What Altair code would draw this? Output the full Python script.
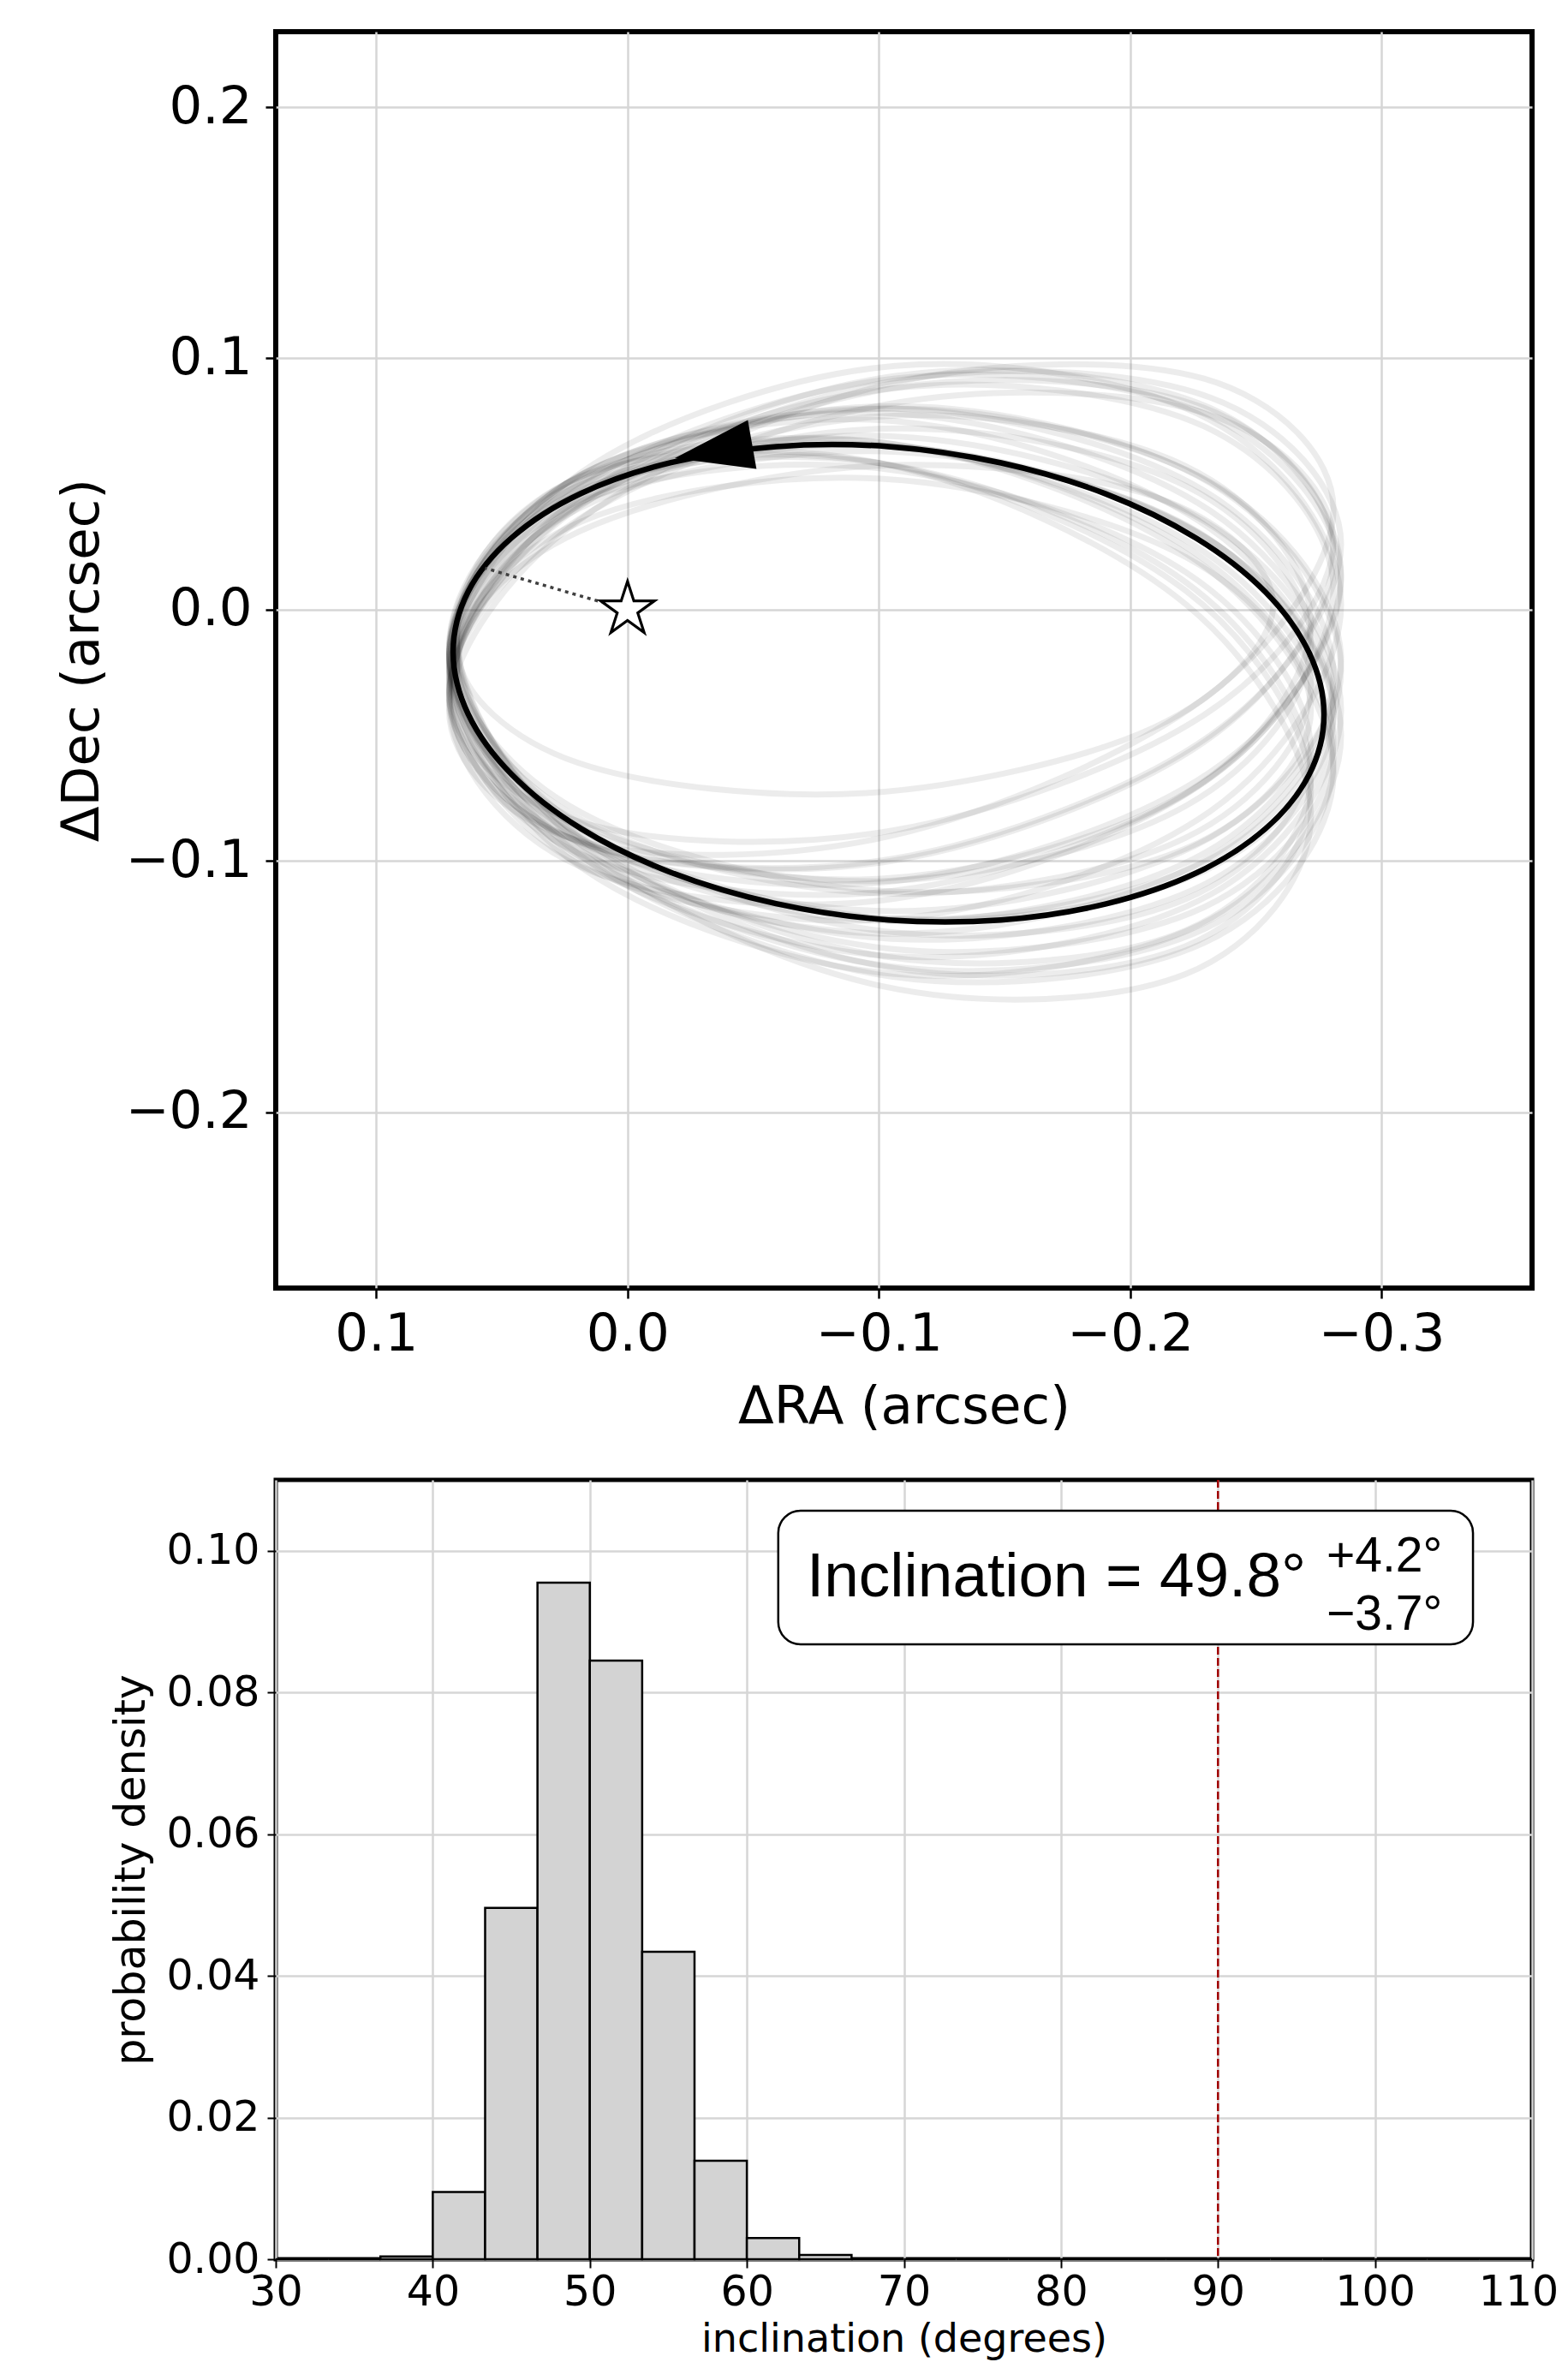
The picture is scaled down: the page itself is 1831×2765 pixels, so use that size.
import altair as alt
import pandas as pd

# ---------------- top panel data (arcsec) ----------------
# best-fit orbit, points
best_ra = [0.0694, 0.0634, 0.0461, 0.0186, -0.0173, -0.0591, -0.1039, -0.1487,
           -0.1905, -0.2264, -0.2539, -0.2712, -0.2772, -0.2712, -0.2539, -0.2264,
           -0.1905, -0.1487, -0.1039, -0.0591, -0.0173, 0.0186, 0.0461, 0.0634]
best_dec = [-0.0168, 0.0072, 0.0286, 0.0462, 0.0585, 0.0649, 0.0649, 0.0584,
            0.0460, 0.0284, 0.0070, -0.0170, -0.0418, -0.0658, -0.0872, -0.1048,
            -0.1171, -0.1235, -0.1235, -0.1170, -0.1046, -0.0871, -0.0656, -0.0416]

# posterior sample orbits: RA of the 8 read points for 4 orbit families
ra_family = {
    "A": [0.071, 0.0195, -0.105, -0.2295, -0.281, -0.2295, -0.105, 0.0195],
    "B": [0.071, 0.0190, -0.1065, -0.2320, -0.284, -0.2320, -0.1065, 0.0190],
    "C": [0.068, 0.0182, -0.102, -0.2222, -0.272, -0.2222, -0.102, 0.0182],
    "D": [0.067, 0.0196, -0.095, -0.2096, -0.257, -0.2096, -0.095, 0.0196],
}
sample_family = ["A", "B", "A", "C", "B", "A", "C", "C", "C", "A",
                 "B", "C", "A", "B", "D", "A", "C", "B", "A", "B",
                 "A", "C", "B", "A", "B", "A", "C", "A"]
sample_dec = [
    [-0.040, 0.0354, 0.090, 0.0919, 0.040, -0.0354, -0.090, -0.0919],
    [-0.034, 0.0420, 0.091, 0.0844, 0.026, -0.0500, -0.099, -0.0924],
    [-0.032, 0.0446, 0.088, 0.0729, 0.008, -0.0686, -0.112, -0.0969],
    [-0.025, 0.0430, 0.077, 0.0571, -0.005, -0.0730, -0.107, -0.0871],
    [-0.024, 0.0503, 0.081, 0.0503, -0.024, -0.0983, -0.129, -0.0983],
    [-0.023, 0.0434, 0.065, 0.0292, -0.043, -0.1094, -0.131, -0.0952],
    [-0.016, 0.0432, 0.056, 0.0149, -0.056, -0.1152, -0.128, -0.0869],
    [-0.012, 0.0499, 0.058, 0.0075, -0.072, -0.1339, -0.142, -0.0915],
    [-0.010, 0.0530, 0.058, 0.0021, -0.082, -0.1450, -0.150, -0.0941],
    [-0.015, 0.0526, 0.066, 0.0173, -0.065, -0.1326, -0.146, -0.0973],
    [-0.028, 0.0542, 0.097, 0.0754, 0.002, -0.0802, -0.123, -0.1014],
    [-0.020, 0.0408, 0.063, 0.0337, -0.030, -0.0908, -0.113, -0.0837],
    [-0.033, 0.0359, 0.082, 0.0783, 0.027, -0.0419, -0.088, -0.0843],
    [-0.020, 0.0534, 0.075, 0.0322, -0.050, -0.1234, -0.145, -0.1022],
    [-0.018, 0.0309, 0.057, 0.0450, 0.002, -0.0469, -0.073, -0.0610],
    [-0.017, 0.0460, 0.065, 0.0290, -0.041, -0.1040, -0.123, -0.0870],
    [-0.020, 0.0351, 0.052, 0.0209, -0.040, -0.0951, -0.112, -0.0809],
    [-0.036, 0.0449, 0.093, 0.0802, 0.014, -0.0669, -0.115, -0.1022],
    [-0.019, 0.0465, 0.069, 0.0352, -0.035, -0.1005, -0.123, -0.0892],
    [-0.020, 0.0507, 0.080, 0.0507, -0.020, -0.0907, -0.120, -0.0907],
    [-0.017, 0.0484, 0.065, 0.0230, -0.053, -0.1184, -0.135, -0.0930],
    [-0.023, 0.0421, 0.072, 0.0492, -0.013, -0.0781, -0.108, -0.0852],
    [-0.028, 0.0486, 0.092, 0.0769, 0.012, -0.0646, -0.108, -0.0929],
    [-0.016, 0.0511, 0.066, 0.0200, -0.060, -0.1271, -0.142, -0.0960],
    [-0.020, 0.0534, 0.078, 0.0393, -0.040, -0.1134, -0.138, -0.0993],
    [-0.034, 0.0407, 0.088, 0.0803, 0.022, -0.0527, -0.100, -0.0923],
    [-0.014, 0.0477, 0.058, 0.0109, -0.066, -0.1277, -0.138, -0.0909],
    [-0.018, 0.0530, 0.080, 0.0473, -0.026, -0.0970, -0.124, -0.0913],
]

star_ra, star_dec = [0.0], [0.0]
sep_ra, sep_dec = [0.0, 0.0567], [0.0, 0.0165]      # star -> companion epoch
arrow_ra, arrow_dec = [-0.0342], [0.0630]           # direction-of-motion arrow

x_ticks_top = [0.1, 0.0, -0.1, -0.2, -0.3]
y_ticks_top = [0.2, 0.1, 0.0, -0.1, -0.2]

# ---------------- bottom panel data ----------------
bin_start = [30.0, 33.333, 36.667, 40.0, 43.333, 46.667, 50.0, 53.333,
             56.667, 60.0, 63.333, 66.667, 70.0, 73.333, 76.667, 80.0,
             83.333, 86.667, 90.0, 93.333, 96.667, 100.0, 103.333, 106.667]
bin_end = bin_start[1:] + [110.0]
density = [0.0, 0.0, 0.0004, 0.0095, 0.0496, 0.0955, 0.0845, 0.0434,
           0.0139, 0.0030, 0.0006, 0.0, 0.0, 0.0, 0.0, 0.0,
           0.0, 0.0, 0.0, 0.0, 0.0, 0.0, 0.0, 0.0]
edge_on = [90]
x_ticks_hist = [30, 40, 50, 60, 70, 80, 90, 100, 110]
y_ticks_hist = [0.0, 0.02, 0.04, 0.06, 0.08, 0.10]
label_main = "Inclination = 49.8°"
label_plus = "+4.2°"
label_minus = "−3.7°"

# ---------------- frames ----------------
best_df = pd.DataFrame({"ra": best_ra, "dec": best_dec, "i": list(range(len(best_ra)))})
rows = []
for k, (fam, decs) in enumerate(zip(sample_family, sample_dec)):
    for j, (r, d) in enumerate(zip(ra_family[fam], decs)):
        rows.append({"orbit": k, "i": j, "ra": r, "dec": d})
gray_df = pd.DataFrame(rows)
star_df = pd.DataFrame({"ra": star_ra, "dec": star_dec})
sep_df = pd.DataFrame({"ra": sep_ra, "dec": sep_dec, "i": [0, 1]})
arrow_df = pd.DataFrame({"ra": arrow_ra, "dec": arrow_dec})

common = dict(grid=True, gridColor="#d6d6d6", gridWidth=2.5, domain=False,
              tickColor="black", labelColor="black", titleColor="black",
              labelFont="DejaVu Sans", titleFont="DejaVu Sans",
              titleFontWeight="normal", labelFlush=False, labelOverlap=False)

xs_top = alt.Scale(domain=[-0.36, 0.14], reverse=True, nice=False, zero=False)
ys_top = alt.Scale(domain=[-0.27, 0.23], nice=False, zero=False)
xax_top = alt.Axis(title="ΔRA (arcsec)", values=x_ticks_top, format=".1f",
                   tickSize=12, tickWidth=2.5, labelFontSize=61, titleFontSize=61,
                   labelPadding=12, titlePadding=25, **common)
yax_top = alt.Axis(title="ΔDec (arcsec)", values=y_ticks_top, format=".1f",
                   tickSize=12, tickWidth=2.5, labelFontSize=61, titleFontSize=61,
                   labelPadding=16, titlePadding=18, **common)


def XT():
    return alt.X("ra:Q", scale=xs_top, axis=xax_top)


def YT():
    return alt.Y("dec:Q", scale=ys_top, axis=yax_top)


STAR = ("M0,-1L0.2245,-0.309L0.9511,-0.309L0.3633,0.118L0.5878,0.809L0,0.382"
        "L-0.5878,0.809L-0.3633,0.118L-0.9511,-0.309L-0.2245,-0.309Z")
ARROW = "M-1,0L1,-0.63L1,0.63Z"

gray = alt.Chart(gray_df).mark_line(
    interpolate="cardinal-closed", color="black", strokeOpacity=0.075, strokeWidth=7
).encode(x=XT(), y=YT(), detail="orbit:N", order="i:Q")

best = alt.Chart(best_df).mark_line(
    interpolate="cardinal-closed", color="black", strokeWidth=6.5
).encode(x=XT(), y=YT(), order="i:Q")

sep = alt.Chart(sep_df).mark_line(
    color="#404040", strokeDash=[4, 5], strokeWidth=3.5
).encode(x=XT(), y=YT(), order="i:Q")

star = alt.Chart(star_df).mark_point(
    shape=STAR, size=4356, fill="white", stroke="black", strokeWidth=3.2,
    opacity=1, fillOpacity=1, strokeOpacity=1
).encode(x=XT(), y=YT())

arrow = alt.Chart(arrow_df).mark_point(
    shape=ARROW, size=8427, angle=350, filled=True, color="black",
    opacity=1, strokeWidth=0
).encode(x=XT(), y=YT())

top = alt.layer(gray, best, sep, star, arrow).properties(
    width=1467, height=1467,
    view=alt.ViewBackground(stroke="black", strokeWidth=6),
)

# ---------------- histogram ----------------
hist_df = pd.DataFrame({"lo": bin_start, "hi": bin_end, "density": density,
                        "base": [0.0] * len(bin_start)})
xs_h = alt.Scale(domain=[30, 110], nice=False, zero=False)
ys_h = alt.Scale(domain=[0, 0.11], nice=False)
xax_h = alt.Axis(title="inclination (degrees)", values=x_ticks_hist, format="d",
                 tickSize=10, tickWidth=2, labelFontSize=49, titleFontSize=46,
                 labelPadding=4, titlePadding=8,
                 labelOffset=alt.condition("datum.value == 110", alt.value(-16), alt.value(0)),
                 **common)
yax_h = alt.Axis(title="probability density", values=y_ticks_hist, format=".2f",
                 tickSize=10, tickWidth=2, labelFontSize=49, titleFontSize=49,
                 labelPadding=9, titlePadding=15, **common)


def XH(field="lo"):
    return alt.X(f"{field}:Q", scale=xs_h, axis=xax_h)


def YH(field="density"):
    return alt.Y(f"{field}:Q", scale=ys_h, axis=yax_h)


bars = alt.Chart(hist_df).mark_bar(
    fill="#d3d3d3", stroke="black", strokeWidth=2.5, opacity=1
).encode(x=XH(), x2="hi:Q", y=YH(), y2="base:Q")

rule = alt.Chart(pd.DataFrame({"lo": edge_on})).mark_rule(
    color="#a00000", strokeDash=[9, 4], strokeWidth=2.5
).encode(x=XH())

box_df = pd.DataFrame({"lo": [62.0], "hi": [106.24], "density": [0.10565], "d2": [0.08679]})
box = alt.Chart(box_df).mark_rect(
    fill="white", stroke="black", strokeWidth=2.5, cornerRadius=26
).encode(x=XH(), x2="hi:Q", y=YH(), y2="d2:Q")

txt_main = alt.Chart(pd.DataFrame({"lo": [63.81], "density": [0.09356], "t": [label_main]})).mark_text(
    font="Liberation Sans", fontSize=73, align="left", baseline="alphabetic", color="black"
).encode(x=XH(), y=YH(), text="t:N")
txt_plus = alt.Chart(pd.DataFrame({"lo": [96.91], "density": [0.09707], "t": [label_plus]})).mark_text(
    font="Liberation Sans", fontSize=57, align="left", baseline="alphabetic", color="black"
).encode(x=XH(), y=YH(), text="t:N")
txt_minus = alt.Chart(pd.DataFrame({"lo": [96.91], "density": [0.08885], "t": [label_minus]})).mark_text(
    font="Liberation Sans", fontSize=57, align="left", baseline="alphabetic", color="black"
).encode(x=XH(), y=YH(), text="t:N")

bottom = alt.layer(bars, rule, box, txt_main, txt_plus, txt_minus).properties(
    width=1467, height=910,
    view=alt.ViewBackground(stroke="black", strokeWidth=5),
)

chart = alt.vconcat(top, bottom, spacing=48).properties(
    padding={"left": 54, "top": 26, "right": 0, "bottom": 2},
    background="white",
).configure_view(stroke=None)

chart.save("out.html", embed_options={"renderer": "svg", "actions": False})
